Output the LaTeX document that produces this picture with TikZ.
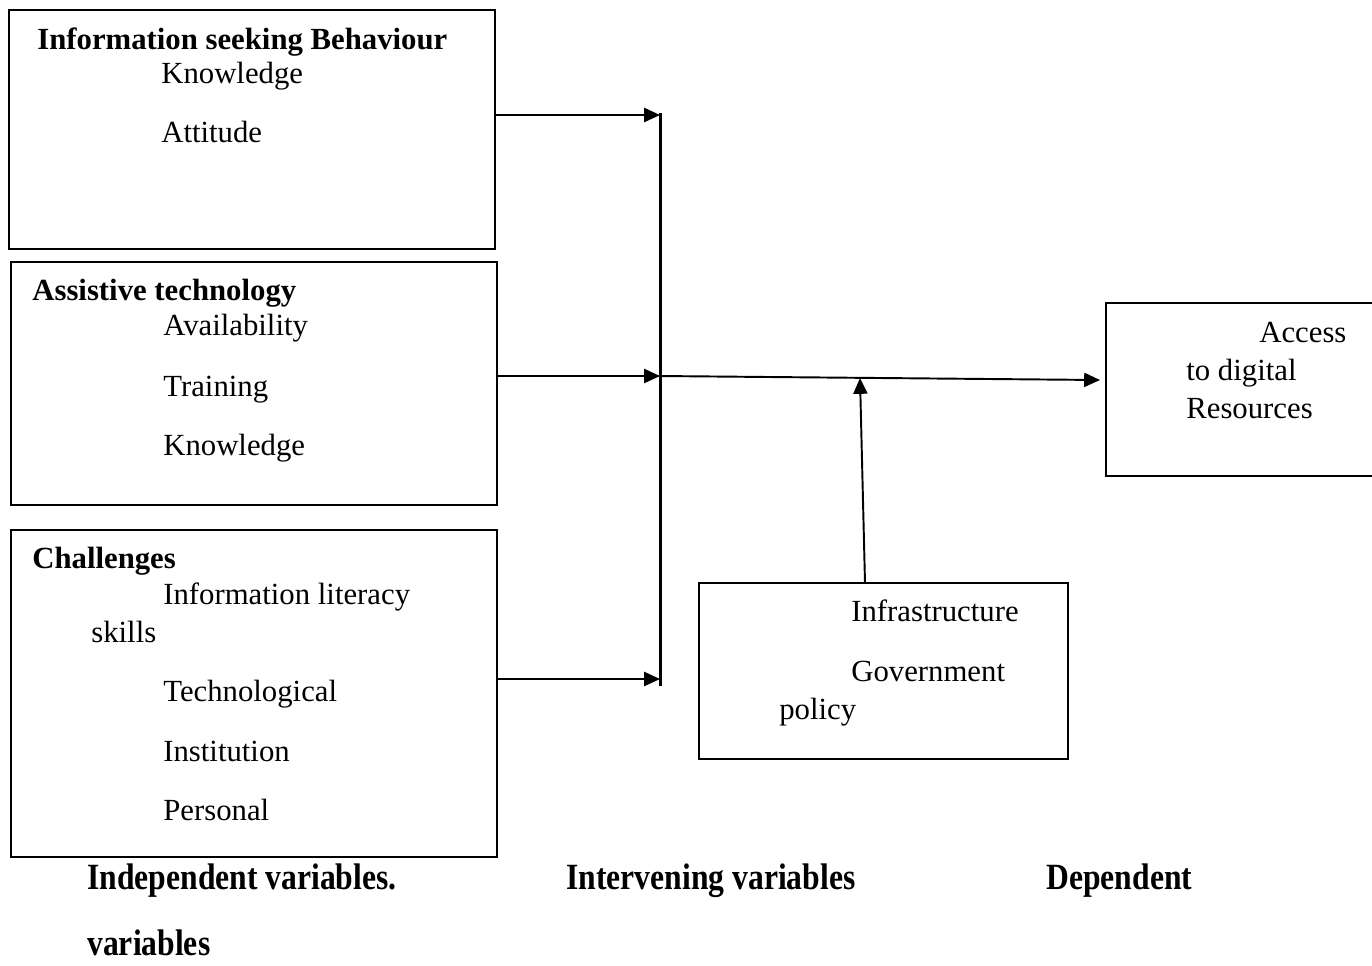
\documentclass[tikz,border=0pt]{standalone}
\usepackage{fontspec}
\setmainfont{Liberation Serif}
\usetikzlibrary{arrows.meta}
\begin{document}
\begin{tikzpicture}[x=0.02cm,y=-0.02cm]
\tikzstyle{box}=[draw,line width=1.1pt,anchor=north west,inner sep=0,outer sep=0]
\tikzstyle{item}=[anchor=base west,inner sep=0,font=\fontsize{17.5}{21}\selectfont]
\tikzstyle{head}=[item,font=\fontsize{17.5}{21}\selectfont\bfseries]
\tikzstyle{foot}=[item,font=\fontsize{18}{22}\selectfont\bfseries]
\tikzstyle{link}=[line width=1.1pt,-{Triangle[length=9pt,width=8pt]}]
\useasboundingbox (0,0) rectangle (1372,965);

% independent variables
\path (9,10) node[box,minimum width=9.72cm,minimum height=4.78cm](isb){};
\path (37,49) node[head]{Information seeking Behaviour};
\path (161,83) node[item]{Knowledge} (161,142) node[item]{Attitude};

\path (11,262) node[box,minimum width=9.72cm,minimum height=4.86cm](ast){};
\path (32,300) node[head]{Assistive technology};
\path (163,335) node[item]{Availability} (163,396) node[item]{Training} (163,455) node[item]{Knowledge};

\path (11,530) node[box,minimum width=9.72cm,minimum height=6.54cm](chl){};
\path (32,568) node[head]{Challenges};
\path (163,604) node[item]{Information literacy} (91,642) node[item]{skills};
\path (163,701) node[item]{Technological} (163,761) node[item]{Institution} (163,820) node[item]{Personal};

% intervening and dependent
\path (699,583) node[box,minimum width=7.38cm,minimum height=3.52cm](itv){};
\path (851,621) node[item]{Infrastructure} (851,681) node[item]{Government} (779,719) node[item]{policy};

\path (1106,303) node[box,minimum width=5.68cm,minimum height=3.46cm](dep){};
\path (1259,342) node[item]{Access} (1186,380) node[item]{to digital} (1186,418) node[item]{Resources};

% connectors
\coordinate (t1) at (660,115);
\coordinate (t2) at (660,376);
\coordinate (t3) at (660,679);
\coordinate (bartop) at (660,113);
\coordinate (barbot) at (660,686);
\coordinate (tip) at (1100,380);
\coordinate (up0) at (865,583);
\coordinate (up1) at (860,378);
\draw[line width=1.7pt] (bartop) -- (barbot);
\draw[link] (isb.east |- t1) -- (t1);
\draw[link] (ast.east |- t2) -- (t2);
\draw[link] (chl.east |- t3) -- (t3);
\draw[link] (t2) -- (tip);
\draw[link] (up0) -- (up1);

% labels
\path (87,889) node[foot]{\scalebox{1}[1.17]{Independent variables.}};
\path (566,889) node[foot]{\scalebox{1}[1.17]{Intervening variables}};
\path (1046,889) node[foot]{\scalebox{1}[1.17]{Dependent}};
\path (87,955) node[foot]{\scalebox{1}[1.17]{variables}};
\end{tikzpicture}
\end{document}
